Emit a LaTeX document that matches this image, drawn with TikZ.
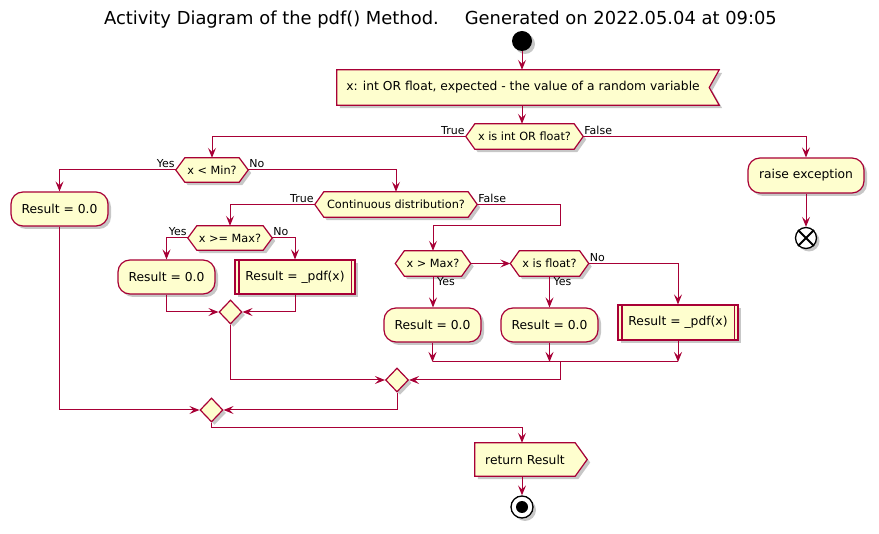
\documentclass[tikz,border=0pt]{standalone}
\usepackage{fontspec}
\setmainfont{DejaVu Sans}
\usetikzlibrary{shapes.geometric,shadows,arrows.meta,calc}
\definecolor{pfill}{HTML}{FEFECE}
\definecolor{pline}{HTML}{A80036}
\pgfdeclarelayer{bg}
\pgfsetlayers{bg,main}
\newcommand\nfont{\fontsize{12.3}{14}\selectfont}
\newcommand\hfont{\fontsize{11.3}{13}\selectfont}
\newcommand\lfont{\fontsize{11}{13}\selectfont}
\tikzset{
  shad/.style={drop shadow={shadow xshift=3pt,shadow yshift=-3pt,opacity=0.22,fill=black}},
  area/.style n args={2}{inner sep=0pt,minimum width=#1,minimum height=#2,font=\nfont,text=black},
  hex/.style n args={2}{inner sep=0pt,minimum width=#1,minimum height=#2,font=\hfont,text=black},
  act/.style={draw=pline,fill=pfill,line width=1.2pt,rounded corners=12pt,shad},
  sub/.style={draw=pline,fill=pfill,line width=1.2pt,shad},
  shp/.style={draw=pline,fill=pfill,line width=1.2pt,shad},
  merge/.style={diamond,draw=pline,fill=pfill,line width=1.2pt,minimum width=23pt,minimum height=24pt,inner sep=0pt,shad},
  flow/.style={draw=pline,line width=1pt,-{Stealth[length=10pt,width=8pt,inset=4pt]}},
  plain/.style={draw=pline,line width=1pt},
  lbl/.style={font=\lfont,text=black,inner sep=1pt}
}
\newcommand\hexa[1]{\draw[shp] (#1.west) -- ([xshift=9pt]#1.north west) -- ([xshift=-9pt]#1.north east) -- (#1.east) -- ([xshift=-9pt]#1.south east) -- ([xshift=9pt]#1.south west) -- cycle;}
\begin{document}
\begin{tikzpicture}[x=1pt,y=-1pt]
\useasboundingbox (0,0) rectangle (879,534);
\begin{pgfonlayer}{bg}
\fill[white] (0,0) rectangle (879,534);
\end{pgfonlayer}
% title
\node[font=\fontsize{17.9}{20}\selectfont,text=black,inner sep=0pt] (title) at (440.5,20) {Activity Diagram of the pdf() Method.\hspace{26pt}Generated on 2022.05.04 at 09:05};
% start
\node[circle,fill=black,minimum size=20pt,inner sep=0pt,shad] (start) at (522,41) {};
% nodes
\node[area={372pt}{35pt}] (inp) at (523,87.5) {x: int OR float, expected - the value of a random variable};
\node[hex={117pt}{25pt}] (d1) at (524.5,136.5) {x is int OR float?};
\node[area={116pt}{35pt},act] (exc) at (806,175.5) {raise exception};
\node[circle,draw=black,fill=white,line width=1.3pt,minimum size=21pt,inner sep=0pt,shad] (endx) at (806,238) {};
\draw[black,line width=2pt] (endx.north west) -- (endx.south east) (endx.north east) -- (endx.south west);
\node[hex={72pt}{24pt}] (d2) at (212,170) {x < Min?};
\node[area={97pt}{34pt},act] (r1) at (59.5,209) {Result = 0.0};
\node[hex={162pt}{25pt}] (d3) at (396,204.5) {Continuous distribution?};
\node[hex={84pt}{24pt}] (d4) at (230,238) {x >= Max?};
\node[area={97pt}{34pt},act] (r2) at (166.5,277) {Result = 0.0};
\node[area={120pt}{34pt},sub] (s1) at (295,277) {Result = \_pdf(x)};
\node[merge] (m1) at (230.5,312) {};
\node[hex={75pt}{25pt}] (d5) at (433,263.5) {x > Max?};
\node[hex={78pt}{25pt}] (d6) at (549.5,263.5) {x is float?};
\node[area={97pt}{34pt},act] (r3) at (432.5,325) {Result = 0.0};
\node[area={97pt}{34pt},act] (r4) at (549.5,325) {Result = 0.0};
\node[area={120pt}{35pt},sub] (s2) at (678,322.5) {Result = \_pdf(x)};
\node[merge] (m2) at (397,380) {};
\node[merge] (m3) at (211.5,410) {};
\node[area={100pt}{33pt}] (ret) at (525,459.5) {return Result};
\node[circle,draw=black,fill=white,line width=1.3pt,minimum size=22pt,inner sep=0pt,shad] (stop) at (522,507) {};
\fill[black] (stop) circle[radius=6pt];
\coordinate (fj) at (560.5,226);
\coordinate (j2) at (560.5,362);
% subroutine inner lines
\foreach \s in {s1,s2}{
  \draw[pline,line width=1.2pt] ([xshift=4.5pt]\s.north west) -- ([xshift=4.5pt]\s.south west)
    ([xshift=-4.5pt]\s.north east) -- ([xshift=-4.5pt]\s.south east);
}
% shapes on background
\begin{pgfonlayer}{bg}
\draw[shp] (inp.north west) -- ([xshift=10pt]inp.north east) -- (inp.east) -- ([xshift=10pt]inp.south east) -- (inp.south west) -- cycle;
\draw[shp] (ret.north west) -- (ret.north east) -- ([xshift=12pt]ret.east) -- (ret.south east) -- (ret.south west) -- cycle;
\hexa{d1}\hexa{d2}\hexa{d3}\hexa{d4}\hexa{d5}\hexa{d6}
\end{pgfonlayer}
% connectors
\draw[flow] (start) -- (start |- inp.north);
\draw[flow] (start |- inp.south) -- (start |- d1.north);
\draw[flow] (d1.west) -| (d2.north);
\draw[flow] (d1.east) -| (exc.north);
\draw[flow] (exc.south) -- (endx.north);
\draw[flow] (d2.west) -| (r1.north);
\draw[flow] (d2.east) -| (d3.north);
\draw[flow] (r1.south) |- (m3.west);
\draw[flow] (d3.west) -| (d4.north);
\draw[flow] (d3.east) -| (fj) -| (d5.north);
\draw[flow] (d4.west) -| (r2.north);
\draw[flow] (d4.east) -| (s1.north);
\draw[flow] (r2.south) |- (m1.west);
\draw[flow] (s1.south) |- (m1.east);
\draw[flow] (m1.south) |- (m2.west);
\draw[flow] (d5.south) -- (d5.south |- r3.north);
\draw[flow] (d5.east) -- (d6.west);
\draw[flow] (d6.south) -- (d6.south |- r4.north);
\draw[flow] (d6.east) -| (s2.north);
\draw[flow] (r3.south) -- (r3.south |- j2);
\draw[flow] (r4.south) -- (r4.south |- j2);
\draw[flow] (s2.south) -- (s2.south |- j2);
\draw[plain] (r3.south |- j2) -- (s2.south |- j2);
\draw[flow] (j2) |- (m2.east);
\draw[flow] (m2.south) |- (m3.east);
\draw[flow] (m3.south) -- ++(0,5) -| (start |- ret.north);
\draw[flow] (start |- ret.south) -- (stop);
% labels
\node[lbl,anchor=south east] at ([yshift=1pt]d1.west) {True};
\node[lbl,anchor=south west] at ([yshift=1pt]d1.east) {False};
\node[lbl,anchor=south east] at ([yshift=1pt]d2.west) {Yes};
\node[lbl,anchor=south west] at ([yshift=1pt]d2.east) {No};
\node[lbl,anchor=south east] at ([yshift=1pt]d3.west) {True};
\node[lbl,anchor=south west] at ([yshift=1pt]d3.east) {False};
\node[lbl,anchor=south east] at ([yshift=1pt]d4.west) {Yes};
\node[lbl,anchor=south west] at ([yshift=1pt]d4.east) {No};
\node[lbl,anchor=north west] at ([xshift=3pt]d5.south) {Yes};
\node[lbl,anchor=north west] at ([xshift=3pt]d6.south) {Yes};
\node[lbl,anchor=south west] at ([yshift=1pt]d6.east) {No};
\end{tikzpicture}
\end{document}
